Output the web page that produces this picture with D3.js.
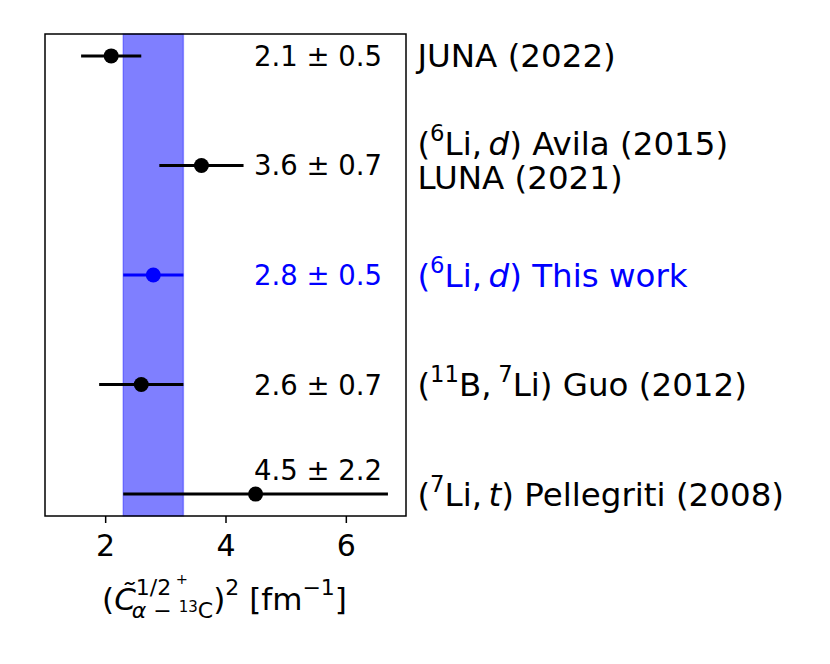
<!DOCTYPE html>
<html>
<head>
<meta charset="utf-8">
<script src="https://cdn.jsdelivr.net/npm/d3@7"></script>
<style>
  html, body { margin: 0; padding: 0; background: #fff; }
  svg text { font-family: "DejaVu Sans", sans-serif; white-space: pre; }
</style>
</head>
<body>
<svg id="chart" width="830" height="664"></svg>
<script>
// ---- data ----
const sources = [
  "JUNA (2022)",
  "(<sup>6</sup>Li,\u2009<i>d</i>) Avila (2015)|LUNA (2021)",
  "(<sup>6</sup>Li,\u2009<i>d</i>) This work",
  "(<sup>11</sup>B,\u2009<sup>7</sup>Li) Guo (2012)",
  "(<sup>7</sup>Li,\u2009<i>t</i>) Pellegriti (2008)"
];
const values = [2.1, 3.6, 2.8, 2.6, 4.5];
const errors = [0.5, 0.7, 0.5, 0.7, 2.2];
const valueLabels = ["2.1 \u00b1 0.5", "3.6 \u00b1 0.7", "2.8 \u00b1 0.5", "2.6 \u00b1 0.7", "4.5 \u00b1 2.2"];
const valueLabelShift = [0, 0, 0, 0, -0.22];
const highlight = [false, false, true, false, false];
const xTicks = [2, 4, 6];
const xDomain = [1, 7];
const bandIndex = 2;

// ---- layout ----
const svg = d3.select("#chart");
const plot = { left: 45, right: 406, top: 34, bottom: 516 };
const x = d3.scaleLinear().domain(xDomain).range([plot.left, plot.right]);
const y = d3.scaleLinear().domain([-0.2, sources.length - 1 + 0.2]).range([plot.top, plot.bottom]);
const colorOf = i => highlight[i] ? "#0000ff" : "#000000";

// band
const bLo = values[bandIndex] - errors[bandIndex];
const bHi = values[bandIndex] + errors[bandIndex];
svg.append("rect")
  .attr("x", x(bLo)).attr("y", plot.top)
  .attr("width", x(bHi) - x(bLo)).attr("height", plot.bottom - plot.top)
  .attr("fill", "rgba(0,0,255,0.5)")
  .attr("stroke", "rgba(0,0,255,0.35)").attr("stroke-width", 1.5);

// error bars
const g = svg.append("g");
sources.forEach((s, i) => {
  g.append("line")
    .attr("x1", x(values[i] - errors[i])).attr("x2", x(values[i] + errors[i]))
    .attr("y1", y(i)).attr("y2", y(i))
    .attr("stroke", colorOf(i)).attr("stroke-width", 3);
  g.append("circle")
    .attr("cx", x(values[i])).attr("cy", y(i)).attr("r", 7.5)
    .attr("fill", colorOf(i));
});

// frame
svg.append("rect")
  .attr("x", plot.left).attr("y", plot.top)
  .attr("width", plot.right - plot.left).attr("height", plot.bottom - plot.top)
  .attr("fill", "none").attr("stroke", "#000").attr("stroke-width", 1.5);

// x axis
const xAxis = d3.axisBottom(x).tickValues(xTicks).tickFormat(d3.format("d")).tickSize(7).tickPadding(12);
const ax = svg.append("g").attr("transform", `translate(0,${plot.bottom})`).call(xAxis);
ax.select(".domain").remove();
ax.selectAll(".tick line").attr("stroke", "#000").attr("stroke-width", 1.5);
ax.selectAll(".tick text").attr("font-size", 30).attr("fill", "#000")
  .style("font-family", "DejaVu Sans");

// value labels
sources.forEach((s, i) => {
  svg.append("text")
    .attr("x", x(6.6)).attr("y", y(i + valueLabelShift[i]))
    .attr("text-anchor", "end").attr("dominant-baseline", "central")
    .attr("font-size", 27.5).attr("fill", colorOf(i))
    .text(valueLabels[i]);
});

// rich text helper: appends tspans for one line; first tspan gets x/y
function rich(sel, str, fs, x0, y0) {
  const parts = str.split(/(<sup>.*?<\/sup>|<i>.*?<\/i>)/).filter(p => p.length);
  let pendingDown = 0, first = true;
  parts.forEach(p => {
    let ts;
    if (p.startsWith("<sup>")) {
      const t = p.replace(/<\/?sup>/g, "");
      ts = sel.append("tspan").attr("font-size", fs * 0.7).text(t);
      if (first) ts.attr("x", x0).attr("y", y0 - 0.42 * fs);
      else ts.attr("dy", -0.42 * fs);
      pendingDown = 0.42 * fs;
    } else {
      const isI = p.startsWith("<i>");
      const t = p.replace(/<\/?i>/g, "");
      ts = sel.append("tspan").attr("font-size", fs).text(t);
      if (isI) ts.attr("font-style", "italic");
      if (first) ts.attr("x", x0).attr("y", y0);
      else if (pendingDown) ts.attr("dy", pendingDown);
      pendingDown = 0;
    }
    first = false;
  });
}

// source labels
const lineGap = 34;
const srcFs = 32.5;
sources.forEach((s, i) => {
  const lines = s.split("|");
  const multiShift = lines.length > 1 ? -5 : 0;
  const t = svg.append("text").attr("fill", colorOf(i)).attr("font-size", srcFs);
  lines.forEach((ln, k) => {
    const off = (k - (lines.length - 1) / 2) * lineGap + multiShift;
    rich(t, ln, srcFs, x(7.19), y(i) + off + 11.5);
  });
});

// x axis label (math), laid out piecewise then drawn as one text element
const base = 610;
const pieces = [
  { t: "(", fs: 31, off: 0 },
  { t: "C\u0303", fs: 31, off: 0, it: true, save: true },
  { t: "1/2", fs: 22, off: -15 },
  { t: " +", fs: 14.5, off: -26, endSup: true },
  { t: "\u03b1", fs: 22, off: 8, it: true, restore: true },
  { t: " \u2212 ", fs: 22, off: 8 },
  { t: "13", fs: 15, off: 2 },
  { t: "C", fs: 22, off: 8, endSub: true },
  { t: ")", fs: 31, off: 0 },
  { t: "2", fs: 22, off: -15 },
  { t: " [fm", fs: 31, off: 0 },
  { t: "\u22121", fs: 22, off: -15 },
  { t: "]", fs: 31, off: 0 }
];
const tmp = svg.append("g");
let cx = 0, saved = 0, supEnd = 0;
pieces.forEach(p => {
  if (p.restore) cx = saved - 4;
  p.x = cx;
  const t = tmp.append("text").attr("font-size", p.fs).text(p.t);
  if (p.it) t.attr("font-style", "italic");
  cx += t.node().getComputedTextLength();
  if (p.save) saved = cx;
  if (p.endSup) supEnd = cx;
  if (p.endSub) cx = Math.max(cx, supEnd);
});
tmp.remove();
const totalW = cx;
const startX = (plot.left + plot.right) / 2 - totalW / 2 - 1;
const lab = svg.append("text").attr("fill", "#000");
pieces.forEach(p => {
  const ts = lab.append("tspan").attr("x", startX + p.x).attr("y", base + p.off)
    .attr("font-size", p.fs).text(p.t);
  if (p.it) ts.attr("font-style", "italic");
});
</script>
</body>
</html>
